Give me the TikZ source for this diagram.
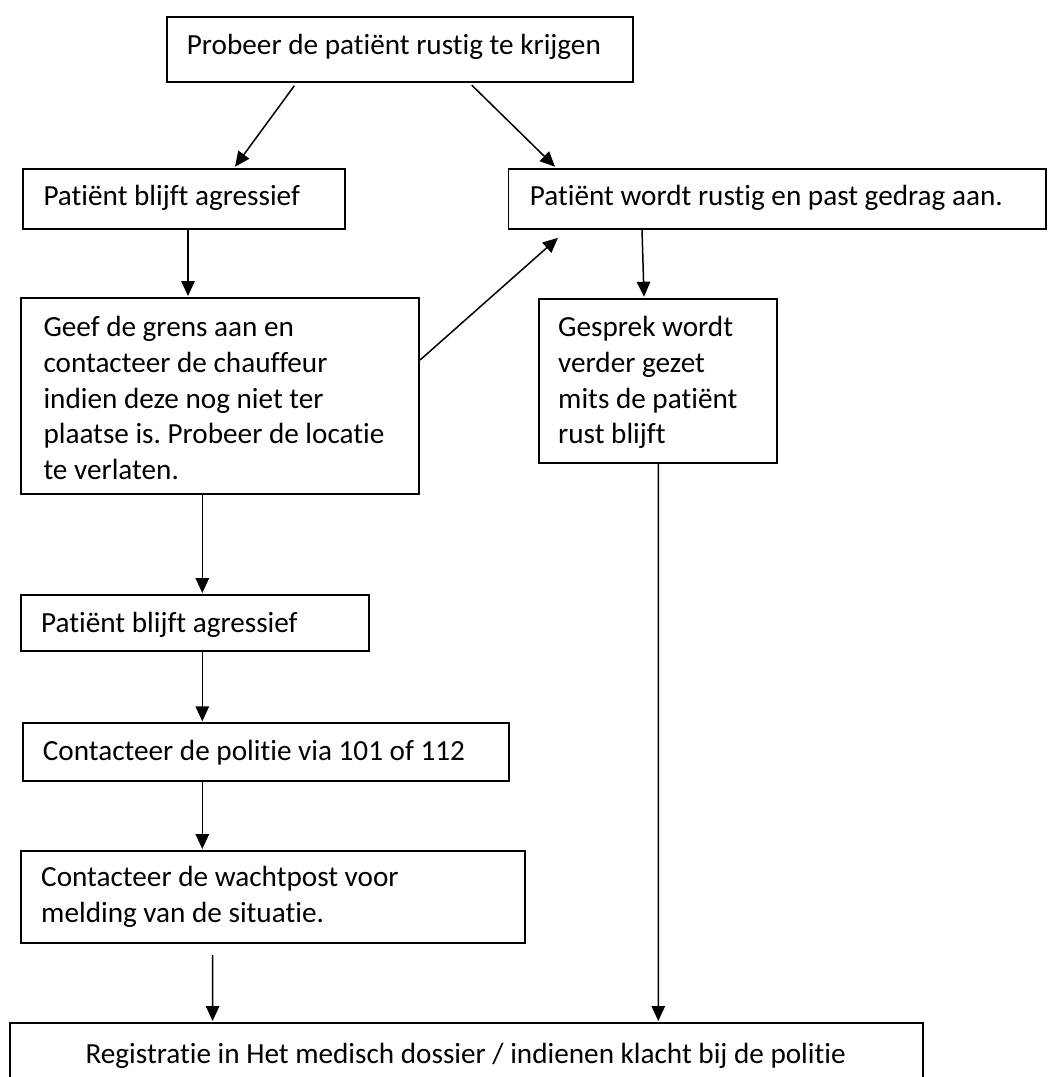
\documentclass[tikz,border=0pt]{standalone}
\usepackage{fontspec}
\setmainfont{Carlito}[Ligatures={NoCommon}]
\usetikzlibrary{arrows.meta}
\frenchspacing
\begin{document}
\begin{tikzpicture}[x=1pt,y=-1pt,
  boxnode/.style={draw=black,line width=1.8pt,inner sep=0pt,anchor=north west},
  txt/.style={inner sep=0pt,align=left,font=\fontsize{29.2pt}{35.6pt}\selectfont},
  arr/.style={line width=1.5pt,-{Triangle[length=15pt,width=13.5pt]}}]
\useasboundingbox (0,0) rectangle (1048,1077);
\clip (0,0) rectangle (1048,1077);
% boxes
\node[boxnode,minimum width=466.3pt,minimum height=65pt] (b1) at (165.7,15.7) {};
\node[boxnode,minimum width=322pt,minimum height=59.4pt] (b2) at (22,168.3) {};
\node[boxnode,minimum width=537.5pt,minimum height=59.4pt] (b3) at (507.5,168.3) {};
\node[boxnode,minimum width=398.3pt,minimum height=195.7pt] (b4) at (20,297) {};
\node[boxnode,minimum width=238pt,minimum height=164.3pt] (b5) at (538,297.7) {};
\node[boxnode,minimum width=348pt,minimum height=56pt] (b6) at (20,594) {};
\node[boxnode,minimum width=486.6pt,minimum height=57.7pt] (b7) at (21.7,722.3) {};
\node[boxnode,minimum width=503.7pt,minimum height=91.7pt] (b8) at (20,850) {};
\node[boxnode,minimum width=912.6pt,minimum height=90pt] (b9) at (9.4,1021.7) {};
% texts
\node[txt,anchor=base west] (t1) at (186.7,54) {Probeer de patiënt rustig te krijgen};
\node[txt,anchor=base west] (t2) at (43.3,205) {Patiënt blijft agressief};
\node[txt,anchor=base west] (t3) at (529.7,205) {Patiënt wordt rustig en past gedrag aan.};
\node[txt,anchor=north west] (t4) at (43.3,311.7) {\rule{0pt}{25pt}Geef de grens aan en\\contacteer de chauffeur\\indien deze nog niet ter\\plaatse is. Probeer de locatie\\te verlaten.};
\node[txt,anchor=north west] (t5) at (558,311.7) {\rule{0pt}{25pt}Gesprek wordt\\verder gezet\\mits de patiënt\\rust blijft};
\node[txt,anchor=base west] (t6) at (41,632.7) {Patiënt blijft agressief};
\node[txt,anchor=base west] (t7) at (42.7,760.7) {Contacteer de politie via 101 of 112};
\node[txt,anchor=north west] (t8) at (41,861.7) {\rule{0pt}{25pt}Contacteer de wachtpost voor\\melding van de situatie.};
\node[txt,anchor=base] (t9) at (465.7,1063) {Registratie in Het medisch dossier / indienen klacht bij de politie};
% connectors
\draw[arr] ([shift={(128.6,3.3)}]b1.south west) -- ([shift={(213,-1.6)}]b2.north west);
\draw[arr] ([shift={(306,2.6)}]b1.south west) -- ([shift={(47.5,-1.6)}]b3.north west);
\draw[arr] ([shift={(166,0)}]b2.south west) -- ([shift={(168,-1)}]b4.north west);
\draw[arr] ([shift={(0,63)}]b4.north east) -- ([shift={(50.5,8.3)}]b3.south west);
\draw[arr] ([shift={(134.5,0)}]b3.south west) -- ([shift={(106,-1)}]b5.north west);
\draw[arr] ([shift={(182.3,0)}]b4.south west) -- ([shift={(182.3,-1)}]b6.north west);
\draw[arr] ([shift={(182.3,0)}]b6.south west) -- ([shift={(180.6,-1)}]b7.north west);
\draw[arr] ([shift={(180.6,0)}]b7.south west) -- ([shift={(182.3,-1)}]b8.north west);
\draw[arr] ([shift={(192.6,11.6)}]b8.south west) -- ([shift={(203.2,-0.7)}]b9.north west);
\draw[arr] ([shift={(120.3,0)}]b5.south west) -- ([shift={(648.9,-0.7)}]b9.north west);
\end{tikzpicture}
\end{document}
